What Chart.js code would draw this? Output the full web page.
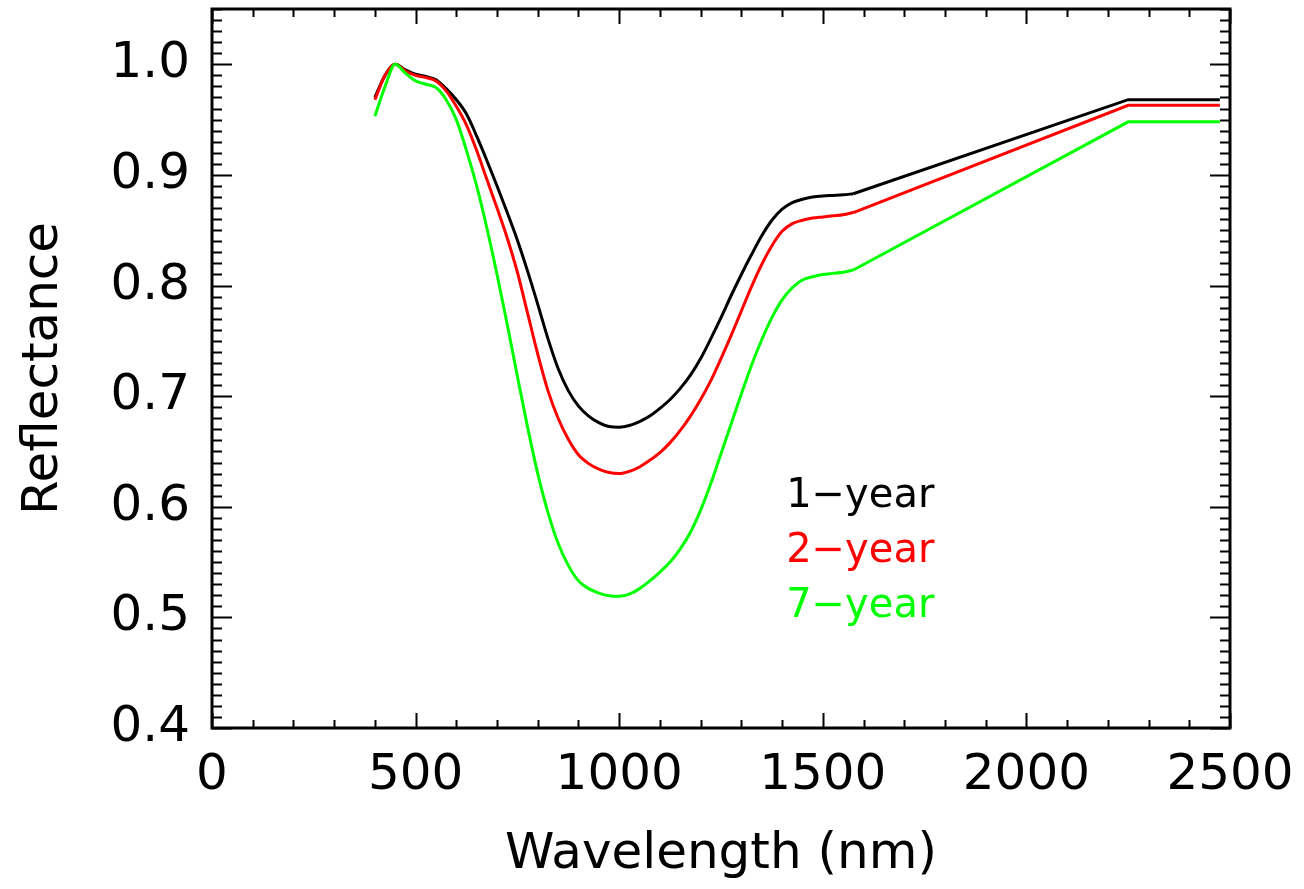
<!DOCTYPE html>
<html>
<head>
<meta charset="utf-8">
<title>Reflectance</title>
<script src="https://cdn.jsdelivr.net/npm/chart.js@4.4.0/dist/chart.umd.min.js"></script>
<style>
  html, body { margin: 0; padding: 0; background: #fff; }
  #wrap { width: 1304px; height: 889px; }
</style>
</head>
<body>
<div id="wrap"><canvas id="reflChart" width="1304" height="889"></canvas></div>
<script>
// wavelength grid (nm) for the curved part of the spectra
var wavelengths = [400, 425, 450, 475, 500, 525, 550, 575, 600, 625, 650, 675, 700, 725, 750, 775,
    800, 825, 850, 875, 900, 925, 950, 975, 1000, 1025, 1050, 1075, 1100, 1125, 1150, 1175,
    1200, 1225, 1250, 1275, 1300, 1325, 1350, 1375, 1400, 1425, 1450, 1475, 1500, 1525, 1550, 1575];
// straight tail of the spectra
var tailWavelengths = [1575, 2250, 2475];

var oneYear = [0.970, 0.990, 1.000, 0.995, 0.991, 0.989, 0.986, 0.978, 0.968, 0.955, 0.935, 0.913, 0.890, 0.866, 0.841, 0.813,
    0.783, 0.752, 0.725, 0.705, 0.691, 0.682, 0.676, 0.6725, 0.672, 0.6735, 0.677, 0.682, 0.689, 0.697, 0.707, 0.719,
    0.734, 0.752, 0.771, 0.791, 0.810, 0.828, 0.845, 0.859, 0.869, 0.875, 0.878, 0.880, 0.881, 0.8815, 0.882, 0.883];
var oneYearTail = [0.883, 0.968, 0.968];

var twoYear = [0.968, 0.990, 1.000, 0.994, 0.990, 0.988, 0.985, 0.976, 0.962, 0.945, 0.922, 0.896, 0.870, 0.843, 0.812, 0.775,
    0.738, 0.705, 0.680, 0.661, 0.647, 0.639, 0.634, 0.631, 0.630, 0.632, 0.636, 0.642, 0.649, 0.658, 0.669, 0.682,
    0.697, 0.714, 0.734, 0.755, 0.777, 0.799, 0.819, 0.836, 0.849, 0.856, 0.859, 0.861, 0.862, 0.863, 0.864, 0.866];
var twoYearTail = [0.866, 0.963, 0.963];

var sevenYear = [0.953, 0.980, 1.000, 0.992, 0.985, 0.982, 0.979, 0.968, 0.950, 0.922, 0.890, 0.852, 0.810, 0.765, 0.718, 0.672,
    0.630, 0.595, 0.567, 0.547, 0.533, 0.526, 0.522, 0.5195, 0.519, 0.521, 0.526, 0.533, 0.541, 0.550, 0.562, 0.577,
    0.597, 0.621, 0.648, 0.675, 0.702, 0.728, 0.751, 0.771, 0.787, 0.798, 0.805, 0.808, 0.810, 0.811, 0.812, 0.814];
var sevenYearTail = [0.814, 0.948, 0.948];

var seriesNames = ['1\u2212year', '2\u2212year', '7\u2212year'];
var seriesColors = ['#000000', '#ff0000', '#00ff00'];

var xTicks = [0, 500, 1000, 1500, 2000, 2500];
var yTicks = [0.4, 0.5, 0.6, 0.7, 0.8, 0.9, 1.0];

// where the legend text sits, in data units (wavelength, reflectance baseline)
var legendX = 1410;
var legendY = [0.600, 0.550, 0.500];

var FONT = 'DejaVu Sans';

function toPoints(xs, ys) {
    return xs.map(function(w, i) { return { x: w, y: ys[i] }; });
}

// green drawn on top, black underneath
var curves = [[oneYear, oneYearTail], [twoYear, twoYearTail], [sevenYear, sevenYearTail]];
var datasets = [];
for (var s = curves.length - 1; s >= 0; s--) {
    datasets.push({
        label: seriesNames[s],
        data: toPoints(wavelengths, curves[s][0]),
        borderColor: seriesColors[s],
        borderWidth: 3,
        pointRadius: 0,
        cubicInterpolationMode: 'monotone',
        fill: false
    });
    datasets.push({
        label: seriesNames[s],
        data: toPoints(tailWavelengths, curves[s][1]),
        borderColor: seriesColors[s],
        borderWidth: 3,
        pointRadius: 0,
        tension: 0,
        fill: false
    });
}

// frame with inward major/minor ticks on all four sides
var frameTicks = {
    id: 'frameTicks',
    afterDatasetsDraw: function(chart) {
        var ctx = chart.ctx;
        var a = chart.chartArea;
        var xs = chart.scales.x, ys = chart.scales.y;
        ctx.save();
        ctx.strokeStyle = '#000';
        ctx.lineCap = 'butt';

        ctx.lineWidth = 2;
        for (var v = xs.min; v <= xs.max + 1e-6; v += 100) {
            var px = Math.round(xs.getPixelForValue(v)) + 0.5;
            var len = (Math.abs(v % 500) < 1e-6) ? 15 : 8;
            ctx.beginPath();
            ctx.moveTo(px, a.bottom); ctx.lineTo(px, a.bottom - len);
            ctx.moveTo(px, a.top); ctx.lineTo(px, a.top + len);
            ctx.stroke();
        }
        for (var k = 40; k <= 105; k++) {
            var py = Math.round(ys.getPixelForValue(k / 100)) + 0.5;
            var l = (k % 10 === 0) ? 20 : 10;
            ctx.beginPath();
            ctx.moveTo(a.left, py); ctx.lineTo(a.left + l, py);
            ctx.moveTo(a.right, py); ctx.lineTo(a.right - l, py);
            ctx.stroke();
        }

        ctx.lineWidth = 3;
        ctx.strokeRect(a.left, a.top, a.right - a.left, a.bottom - a.top);
        ctx.restore();
    }
};

// coloured text labels for each series inside the plot
var textLegend = {
    id: 'textLegend',
    afterDatasetsDraw: function(chart) {
        var ctx = chart.ctx;
        var xs = chart.scales.x, ys = chart.scales.y;
        ctx.save();
        ctx.font = '40px "' + FONT + '"';
        ctx.textAlign = 'left';
        ctx.textBaseline = 'alphabetic';
        seriesNames.forEach(function(name, i) {
            ctx.fillStyle = seriesColors[i];
            ctx.fillText(name, xs.getPixelForValue(legendX), ys.getPixelForValue(legendY[i]));
        });
        ctx.restore();
    }
};

var ctx = document.getElementById('reflChart').getContext('2d');
var reflChart = new Chart(ctx, {
    type: 'line',
    data: { datasets: datasets },
    options: {
        responsive: false,
        animation: false,
        layout: { padding: { top: 9, right: 74, left: 0, bottom: 0 } },
        plugins: {
            legend: { display: false },
            tooltip: { enabled: false }
        },
        scales: {
            x: {
                type: 'linear',
                min: 0,
                max: 2500,
                grid: { display: false, drawTicks: false },
                border: { display: false },
                afterBuildTicks: function(scale) {
                    scale.ticks = xTicks.map(function(v) { return { value: v }; });
                },
                afterFit: function(scale) {
                    scale.height = 161;
                    scale.paddingLeft = 0;
                    scale.paddingRight = 0;
                },
                ticks: {
                    color: '#000',
                    padding: 18,
                    maxRotation: 0,
                    font: { family: FONT, size: 50 },
                    callback: function(v) { return String(v); }
                },
                title: {
                    display: true,
                    text: 'Wavelength (nm)',
                    color: '#000',
                    font: { family: FONT, size: 50 },
                    padding: { top: 0, bottom: 4 }
                }
            },
            y: {
                min: 0.4,
                max: 1.05,
                grid: { display: false, drawTicks: false },
                border: { display: false },
                afterBuildTicks: function(scale) {
                    scale.ticks = yTicks.map(function(v) { return { value: v }; });
                },
                afterFit: function(scale) {
                    scale.width = 212;
                    scale.paddingTop = 0;
                    scale.paddingBottom = 0;
                },
                ticks: {
                    color: '#000',
                    padding: 22,
                    font: { family: FONT, size: 50 },
                    callback: function(v) { return Number(v).toFixed(1); }
                },
                title: {
                    display: true,
                    text: 'Reflectance',
                    color: '#000',
                    font: { family: FONT, size: 50 },
                    padding: { top: 14, bottom: 0 }
                }
            }
        }
    },
    plugins: [frameTicks, textLegend]
});
</script>
</body>
</html>
